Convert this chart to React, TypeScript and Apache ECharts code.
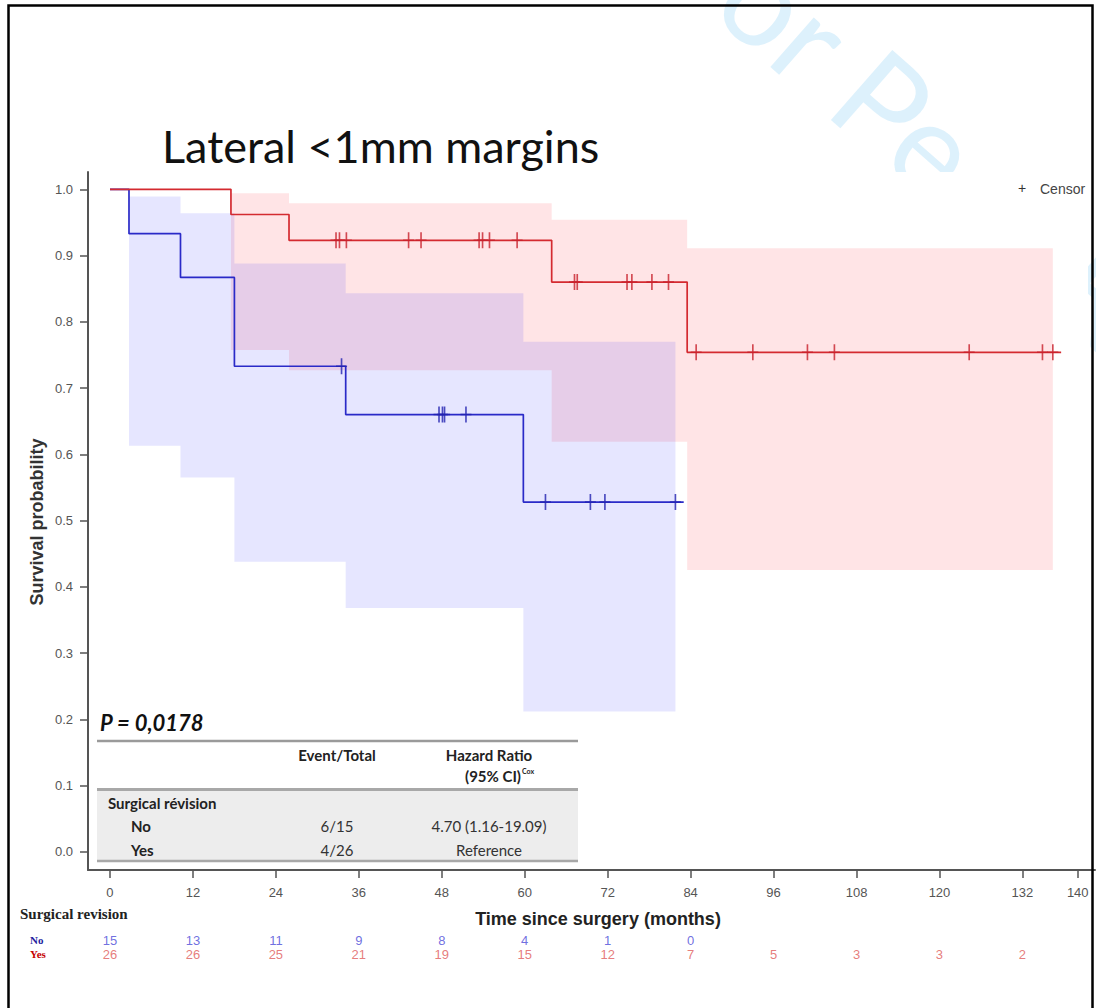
import React, { useEffect, useRef } from "react";
import * as echarts from "echarts";

const TITLE = "Lateral <1mm margins";
const X_NAME = "Time since surgery (months)";
const Y_NAME = "Survival probability";

const xTicks = [0, 12, 24, 36, 48, 60, 72, 84, 96, 108, 120, 132, 140];
const yTicks = [0, 0.1, 0.2, 0.3, 0.4, 0.5, 0.6, 0.7, 0.8, 0.9, 1.0];

// Kaplan-Meier steps, group "No" (blue)
const noTimes = [0, 2.75, 10.2, 18.0, 34.1, 59.8, 83.0];
const noSurv = [1, 0.933, 0.867, 0.733, 0.66, 0.528, 0.528];
// group "Yes" (red)
const yesTimes = [0, 17.5, 25.9, 63.9, 83.5, 137.6];
const yesSurv = [1, 0.962, 0.923, 0.86, 0.754, 0.754];

// censor times
const noCensorTimes = [33.5, 47.6, 48.1, 48.4, 51.5, 63.0, 69.5, 71.6, 81.8];
const yesCensorTimes = [
  32.7, 33.2, 34.2, 43.2, 45.0, 53.4, 53.9, 54.9, 58.9, 67.2, 67.6, 74.8, 75.5,
  78.4, 80.8, 84.8, 93.0, 100.9, 104.8, 124.3, 134.9, 136.4,
];

// 95% confidence bands (step segments)
const noBandStart = [2.75, 10.2, 18.0, 34.1, 59.8];
const noBandEnd = 81.8;
const noBandLow = [0.613, 0.565, 0.438, 0.368, 0.212];
const noBandHigh = [0.989, 0.964, 0.888, 0.843, 0.77];
const yesBandStart = [17.5, 25.9, 63.9, 83.5];
const yesBandEnd = 136.4;
const yesBandLow = [0.7575, 0.727, 0.619, 0.4255];
const yesBandHigh = [0.994, 0.979, 0.954, 0.911];

// numbers at risk
const riskGroups = ["Yes", "No"];
const riskTimes = [0, 12, 24, 36, 48, 60, 72, 84, 96, 108, 120, 132];
const riskNo = [15, 13, 11, 9, 8, 4, 1, 0];
const riskYes = [26, 26, 25, 21, 19, 15, 12, 7, 5, 3, 3, 2];

// stats table
const tableHeaders = ["Event/Total", "Hazard Ratio"];
const tableRows = ["No", "Yes"];
const tableEvents = ["6/15", "4/26"];
const tableHR = ["4.70 (1.16-19.09)", "Reference"];
const P_TEXT = "P = 0,0178";

const BLUE = "#2a2ac8";
const RED = "#d42a30";
const X_MIN = -3.18;
const X_MAX = 142.5;
const Y_MIN = -0.0272;
const Y_MAX = 1.0261;

const CENSOR_SYMBOL = "path://M4.25,0H5.75V16H4.25Z M0,7.25H10V8.75H0Z";

function survAt(times: number[], surv: number[], t: number) {
  let s = surv[0];
  for (let i = 0; i < times.length; i++) if (times[i] <= t) s = surv[i];
  return s;
}

function bandSeries(start: number[], end: number, low: number[], high: number[], fill: string) {
  return {
    type: "custom",
    xAxisIndex: 0,
    yAxisIndex: 0,
    z: 1,
    silent: true,
    data: [[start[0], low[0]]],
    renderItem: (_p: any, api: any) => {
      const pts: number[][] = [];
      for (let i = 0; i < start.length; i++) {
        const x0 = start[i];
        const x1 = i + 1 < start.length ? start[i + 1] : end;
        pts.push(api.coord([x0, high[i]]), api.coord([x1, high[i]]));
      }
      for (let i = start.length - 1; i >= 0; i--) {
        const x0 = start[i];
        const x1 = i + 1 < start.length ? start[i + 1] : end;
        pts.push(api.coord([x1, low[i]]), api.coord([x0, low[i]]));
      }
      return { type: "polygon", shape: { points: pts }, style: { fill } };
    },
  };
}

function txt(
  text: string,
  x: number,
  y: number,
  o: { size?: number; weight?: string; style?: string; family?: string; color?: string; align?: string; rotation?: number; z?: number } = {}
) {
  return {
    type: "text",
    x,
    y,
    rotation: o.rotation || 0,
    z: o.z ?? 5,
    silent: true,
    style: {
      text,
      fill: o.color || "#111",
      fontSize: o.size || 15,
      fontWeight: o.weight || "normal",
      fontStyle: o.style || "normal",
      fontFamily: o.family || "Lato",
      align: o.align || "left",
      verticalAlign: "middle",
    },
  };
}

function hline(x1: number, x2: number, y: number, color: string, w: number) {
  return { type: "line", z: 5, silent: true, shape: { x1, y1: y, x2, y2: y }, style: { stroke: color, lineWidth: w } };
}

function riskSeries(counts: number[], group: string, color: string) {
  const row = riskGroups.indexOf(group);
  return {
    type: "scatter",
    xAxisIndex: 1,
    yAxisIndex: 1,
    silent: true,
    symbolSize: 2,
    itemStyle: { color: "rgba(0,0,0,0)" },
    label: {
      show: true,
      position: "inside",
      formatter: (p: any) => String(p.value[2]),
      color,
      fontSize: 13,
      fontFamily: "Liberation Sans",
    },
    data: counts.map((n, i) => [riskTimes[i], row, n]),
  };
}

export default function App() {
  const ref = useRef<HTMLDivElement>(null);

  useEffect(() => {
    document.body.style.margin = "0";
    const chart = echarts.init(ref.current!, null, { renderer: "svg" });

    const axisFont = { color: "#555", fontSize: 13, fontFamily: "Liberation Sans" };

    const option: any = {
      animation: false,
      backgroundColor: "#fff",
      grid: [
        { left: 88, right: 1, top: 172, bottom: 138 },
        { left: 88, right: 1, top: 933, height: 28 },
      ],
      xAxis: [
        {
          type: "value",
          gridIndex: 0,
          min: X_MIN,
          max: X_MAX,
          axisLine: { onZero: false, lineStyle: { color: "#555", width: 2 } },
          axisTick: { customValues: xTicks, length: 8, lineStyle: { color: "#555", width: 1.5 } },
          axisLabel: { customValues: xTicks, margin: 16, ...axisFont },
          splitLine: { show: false },
        },
        { type: "value", gridIndex: 1, min: X_MIN, max: X_MAX, show: false },
      ],
      yAxis: [
        {
          type: "value",
          gridIndex: 0,
          min: Y_MIN,
          max: Y_MAX,
          axisLine: { onZero: false, lineStyle: { color: "#555", width: 2 } },
          axisTick: { customValues: yTicks, length: 8, lineStyle: { color: "#555", width: 1.5 } },
          axisLabel: {
            customValues: yTicks,
            margin: 15,
            formatter: (v: number) => v.toFixed(1),
            ...axisFont,
          },
          splitLine: { show: false },
        },
        {
          type: "category",
          gridIndex: 1,
          data: riskGroups,
          axisLine: { show: false },
          axisTick: { show: false },
          axisLabel: {
            interval: 0,
            align: "left",
            margin: 58,
            formatter: (v: string) => (v === "No" ? "{no|No}" : "{yes|Yes}"),
            rich: {
              no: { color: "#1f1fa0", fontFamily: "Liberation Serif", fontWeight: "bold", fontSize: 11 },
              yes: { color: "#c40000", fontFamily: "Liberation Serif", fontWeight: "bold", fontSize: 11 },
            },
          },
        },
      ],
      series: [
        bandSeries(yesBandStart, yesBandEnd, yesBandLow, yesBandHigh, "rgba(255,0,20,0.105)"),
        bandSeries(noBandStart, noBandEnd, noBandLow, noBandHigh, "rgba(20,20,255,0.105)"),
        {
          type: "line",
          step: "end",
          z: 3,
          showSymbol: false,
          silent: true,
          data: noTimes.map((t, i) => [t, noSurv[i]]),
          lineStyle: { color: BLUE, width: 1.7 },
        },
        {
          type: "line",
          step: "end",
          z: 4,
          showSymbol: false,
          silent: true,
          data: yesTimes.map((t, i) => [t, yesSurv[i]]),
          lineStyle: { color: RED, width: 1.7 },
        },
        {
          type: "scatter",
          z: 5,
          silent: true,
          symbol: CENSOR_SYMBOL,
          symbolSize: [11, 16],
          itemStyle: { color: "#2222b0" },
          data: noCensorTimes.map((t) => [t, survAt(noTimes, noSurv, t)]),
        },
        {
          type: "scatter",
          z: 5,
          silent: true,
          symbol: CENSOR_SYMBOL,
          symbolSize: [11, 16],
          itemStyle: { color: "#c8202c" },
          data: yesCensorTimes.map((t) => [t, survAt(yesTimes, yesSurv, t)]),
        },
        riskSeries(riskNo, "No", "#4a4ad8"),
        riskSeries(riskYes, "Yes", "#e05a5a"),
      ],
      graphic: [
        // watermark (partly hidden behind the pasted chart)
        {
          type: "text",
          x: 690,
          y: -70,
          rotation: -0.72,
          z: -20,
          silent: true,
          style: {
            text: "For Peer Review",
            fill: "rgba(120,200,245,0.25)",
            fontSize: 130,
            fontWeight: "normal",
            fontFamily: "Lato",
            align: "left",
            verticalAlign: "middle",
          },
        },
        { type: "rect", z: -10, silent: true, shape: { x: 10, y: 172, width: 1078, height: 840 }, style: { fill: "#fff" } },
        // frame
        {
          type: "rect",
          z: 10,
          silent: true,
          shape: { x: 8.5, y: 5.5, width: 1084, height: 1010 },
          style: { fill: "none", stroke: "#000", lineWidth: 2.5 },
        },
        txt(TITLE, 162, 146, { size: 45, color: "#111" }),
        txt("+", 1022, 188, { size: 14, family: "Liberation Sans", color: "#333", align: "center" }),
        txt("Censor", 1040, 189, { size: 14, family: "Liberation Sans", color: "#444" }),
        txt(Y_NAME, 37, 522, { size: 18, weight: "bold", family: "Liberation Sans", color: "#333", align: "center", rotation: Math.PI / 2 }),
        txt(X_NAME, 598, 919, { size: 18, weight: "bold", family: "Liberation Sans", color: "#222", align: "center" }),
        txt("Surgical revision", 20, 914, { size: 15, weight: "bold", family: "Liberation Serif", color: "#222" }),
        // stats table
        { type: "rect", z: 4, silent: true, shape: { x: 97, y: 790, width: 481, height: 71 }, style: { fill: "#ededed" } },
        hline(97, 578, 741, "#9a9a9a", 2.5),
        hline(97, 578, 789.5, "#a8a8a8", 3),
        hline(97, 578, 861, "#a8a8a8", 2.5),
        txt(P_TEXT, 100, 722, { size: 22, weight: "bold", style: "italic", color: "#111" }),
        txt(tableHeaders[0], 337, 755, { size: 15, weight: "bold", color: "#222", align: "center" }),
        txt(tableHeaders[1], 489, 755, { size: 15, weight: "bold", color: "#222", align: "center" }),
        txt("(95% CI)", 521, 776, { size: 15, weight: "bold", color: "#222", align: "right" }),
        txt("Cox", 522, 771, { size: 7, weight: "bold", color: "#222" }),
        txt("Surgical révision", 108, 803, { size: 15, weight: "bold", color: "#222" }),
        txt(tableRows[0], 131, 826, { size: 15, weight: "bold", color: "#222" }),
        txt(tableRows[1], 131, 850, { size: 15, weight: "bold", color: "#222" }),
        txt(tableEvents[0], 337, 826, { size: 15, color: "#333", align: "center" }),
        txt(tableEvents[1], 337, 850, { size: 15, color: "#333", align: "center" }),
        txt(tableHR[0], 489, 826, { size: 15, color: "#333", align: "center" }),
        txt(tableHR[1], 489, 850, { size: 15, color: "#333", align: "center" }),
      ],
    };

    chart.setOption(option);
    return () => chart.dispose();
  }, []);

  return <div ref={ref} style={{ width: 1096, height: 1008, background: "#fff" }} />;
}
